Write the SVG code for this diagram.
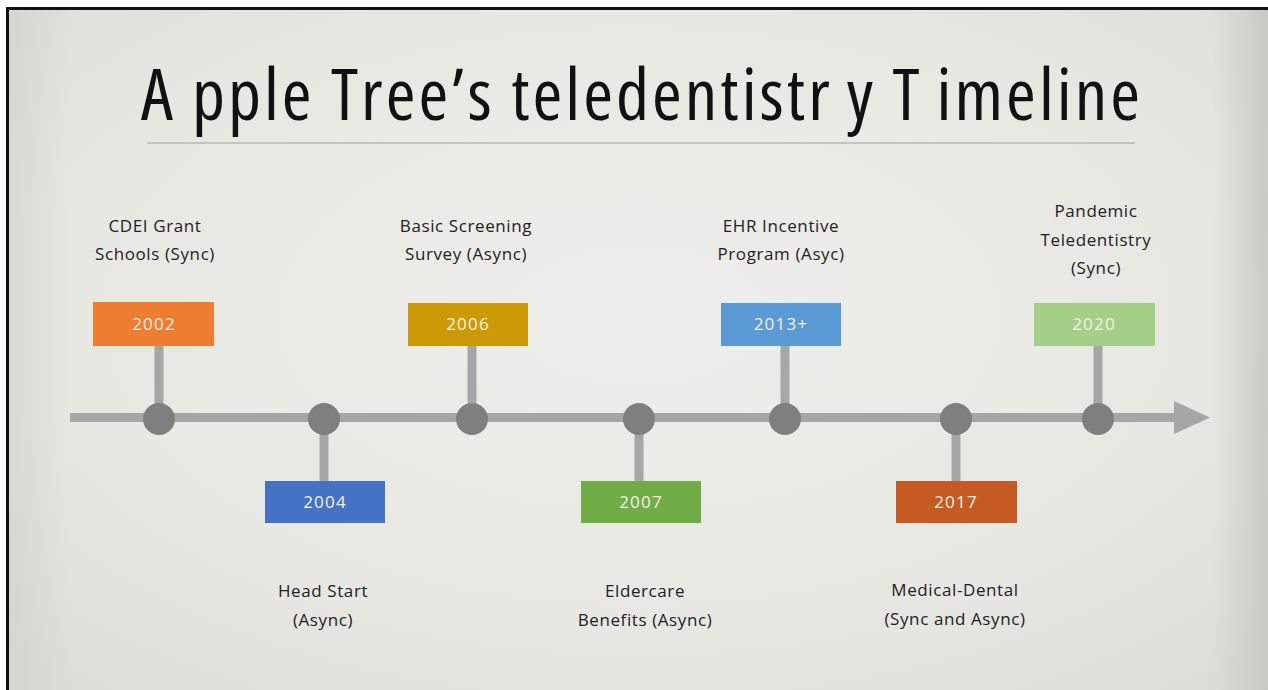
<svg xmlns="http://www.w3.org/2000/svg" width="1268" height="690" viewBox="0 0 1268 690">
<defs>
<radialGradient id="bg" cx="0.5" cy="0.45" r="0.7">
<stop offset="0" stop-color="#eeeeea"/>
<stop offset="0.7" stop-color="#e7e7e2"/>
<stop offset="1" stop-color="#dcddd6"/>
</radialGradient>
<linearGradient id="edge" x1="0" y1="0" x2="1" y2="0">
<stop offset="0" stop-color="#cfd0c9" stop-opacity="0.6"/>
<stop offset="0.05" stop-color="#cfd0c9" stop-opacity="0"/>
<stop offset="0.955" stop-color="#c9cac3" stop-opacity="0"/>
<stop offset="1" stop-color="#c4c5be" stop-opacity="0.85"/>
</linearGradient>
<style>
.lbl{font-family:"Open Sans","Liberation Sans",sans-serif;font-size:17px;fill:#222;text-anchor:middle;letter-spacing:0.6px}
.yr{font-family:"Open Sans","Liberation Sans",sans-serif;font-size:17px;fill:#f6f0e2;text-anchor:middle;letter-spacing:1.2px}
.title{font-family:"Open Sans","Liberation Sans",sans-serif;font-size:72px;font-weight:400;font-stretch:82%;fill:#111}
.stem{stroke:#a6a6a6;stroke-width:9}
.dot{fill:#7f7f7f}
</style>
</defs>
<rect x="0" y="0" width="1268" height="690" fill="#ffffff"/>
<rect x="8" y="9" width="1260" height="681" fill="url(#bg)"/>
<rect x="8" y="9" width="1260" height="681" fill="url(#edge)"/>
<rect x="6" y="7" width="1262" height="3" fill="#111"/>
<rect x="6" y="7" width="3" height="683" fill="#111"/>

<g id="title">
<text class="title" x="141" y="120" dx="0 16 0 0 0 0 0 0 0 0 0 0 0 0 0 0 0 0 0 0 0 0 0 0 0 14 0 0 14" textLength="999" lengthAdjust="spacing">Apple Tree’s teledentistry Timeline</text>
<rect x="147" y="142" width="988" height="2" fill="#c4c4c0"/>
</g>

<g id="connectors">
<line class="stem" x1="70" y1="417.5" x2="1178" y2="417.5"/>
<polygon points="1174,401 1210,417.5 1174,434" fill="#a6a6a6"/>
<line class="stem" x1="159" y1="346" x2="159" y2="419"/>
<line class="stem" x1="324" y1="419" x2="324" y2="481"/>
<line class="stem" x1="472" y1="346" x2="472" y2="419"/>
<line class="stem" x1="639" y1="419" x2="639" y2="481"/>
<line class="stem" x1="785" y1="346" x2="785" y2="419"/>
<line class="stem" x1="956" y1="419" x2="956" y2="481"/>
<line class="stem" x1="1098" y1="346" x2="1098" y2="419"/>
</g>

<g id="node-2002">
<circle class="dot" cx="159" cy="419" r="16"/>
<rect x="93" y="302" width="121" height="44" fill="#ed7d31"/>
<text class="yr" x="154" y="330">2002</text>
<text class="lbl" x="155" y="232">CDEI Grant</text>
<text class="lbl" x="155" y="260">Schools (Sync)</text>
</g>

<g id="node-2004">
<circle class="dot" cx="324" cy="419" r="16"/>
<rect x="265" y="481" width="120" height="42" fill="#4472c4"/>
<text class="yr" x="325" y="508">2004</text>
<text class="lbl" x="323" y="597">Head Start</text>
<text class="lbl" x="323" y="626">(Async)</text>
</g>

<g id="node-2006">
<circle class="dot" cx="472" cy="419" r="16"/>
<rect x="408" y="303" width="120" height="43" fill="#cc9a06"/>
<text class="yr" x="468" y="330">2006</text>
<text class="lbl" x="466" y="232">Basic Screening</text>
<text class="lbl" x="466" y="260">Survey (Async)</text>
</g>

<g id="node-2007">
<circle class="dot" cx="639" cy="419" r="16"/>
<rect x="581" y="481" width="120" height="42" fill="#70ad47"/>
<text class="yr" x="641" y="508">2007</text>
<text class="lbl" x="645" y="597">Eldercare</text>
<text class="lbl" x="645" y="626">Benefits (Async)</text>
</g>

<g id="node-2013">
<circle class="dot" cx="785" cy="419" r="16"/>
<rect x="721" y="303" width="120" height="43" fill="#5b9bd5"/>
<text class="yr" x="781" y="330">2013+</text>
<text class="lbl" x="781" y="232">EHR Incentive</text>
<text class="lbl" x="781" y="260">Program (Asyc)</text>
</g>

<g id="node-2017">
<circle class="dot" cx="956" cy="419" r="16"/>
<rect x="896" y="481" width="121" height="42" fill="#c55a22"/>
<text class="yr" x="956" y="508">2017</text>
<text class="lbl" x="955" y="596">Medical-Dental</text>
<text class="lbl" x="955" y="625">(Sync and Async)</text>
</g>

<g id="node-2020">
<circle class="dot" cx="1098" cy="419" r="16"/>
<rect x="1034" y="303" width="121" height="43" fill="#a4cf87"/>
<text class="yr" x="1094" y="330">2020</text>
<text class="lbl" x="1096" y="217">Pandemic</text>
<text class="lbl" x="1096" y="246">Teledentistry</text>
<text class="lbl" x="1096" y="274">(Sync)</text>
</g>
</svg>
